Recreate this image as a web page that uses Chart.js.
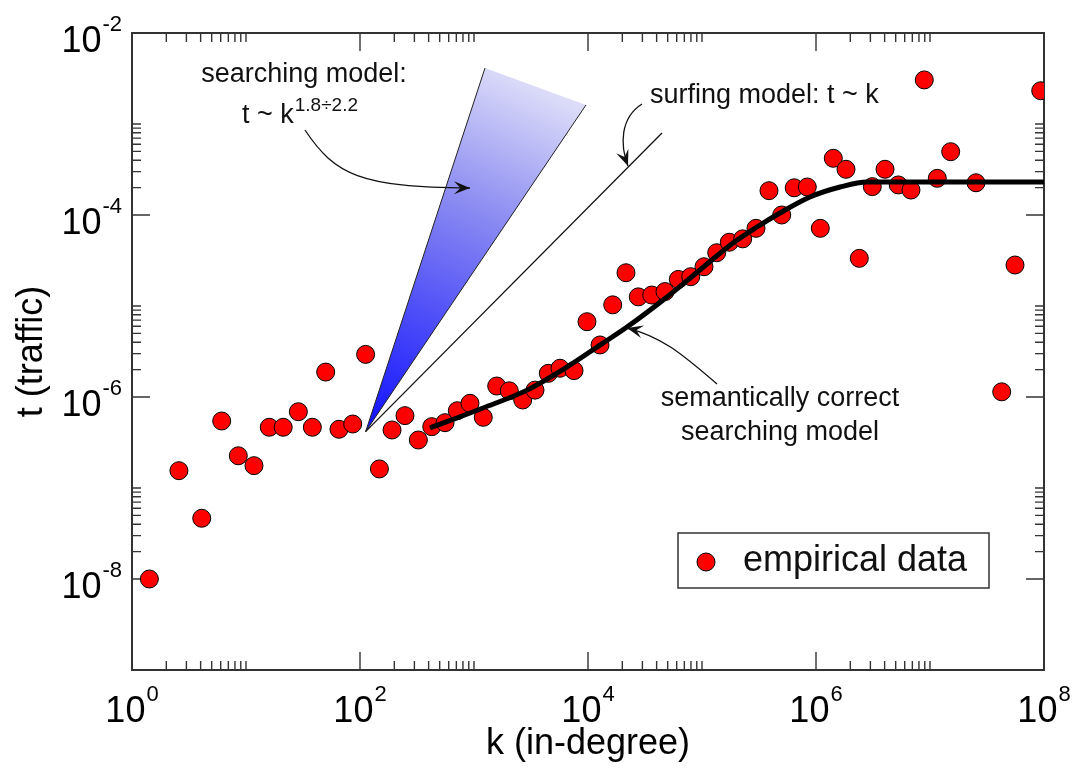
<!DOCTYPE html>
<html>
<head>
<meta charset="utf-8">
<script src="https://cdn.jsdelivr.net/npm/chart.js@4.4.0/dist/chart.umd.min.js"></script>
<style>
  html, body { margin: 0; padding: 0; background: #fff; }
  #wrap { width: 1075px; height: 768px; }
</style>
</head>
<body>
<div id="wrap"><canvas id="myChart" width="1075" height="768"></canvas></div>
<script>
const FONT = '"Liberation Sans", Arimo, Helvetica, Arial, sans-serif';

// empirical data: in-degree k and traffic t
const empiricalK = [1.42, 2.58, 4.09, 6.12, 8.56, 11.75, 16.0, 21.2, 28.8, 38.2, 50.0, 65.4, 86.3, 112, 148, 191, 248, 325, 426, 557,
  714, 922, 1206, 1582, 2040, 2675, 3429, 4485, 5680, 7540, 9800, 12750, 16470, 21540, 27620, 36220, 47370, 61960, 79600, 104100,
  134600, 173600, 227500, 297700, 387000, 500100, 644000, 838800, 1.091e6, 1.418e6, 1.833e6, 2.398e6, 3.118e6, 4.03e6, 5.27e6,
  6.81e6, 8.91e6, 1.159e7, 1.519e7, 2.533e7, 4.256e7, 5.568e7, 9.36e7];
const empiricalT = [1.0e-8, 1.55e-7, 4.65e-8, 5.45e-7, 2.26e-7, 1.76e-7, 4.65e-7, 4.65e-7, 6.89e-7, 4.65e-7, 1.88e-6, 4.42e-7, 5.05e-7, 2.94e-6, 1.62e-7, 4.34e-7, 6.24e-7, 3.37e-7, 4.72e-7, 5.22e-7,
  7.07e-7, 8.53e-7, 5.98e-7, 1.32e-6, 1.17e-6, 9.27e-7, 1.19e-6, 1.82e-6, 2.07e-6, 1.95e-6, 6.72e-6, 3.73e-6, 1.03e-5, 2.32e-5, 1.26e-5, 1.32e-5, 1.44e-5, 1.96e-5, 2.10e-5, 2.70e-5,
  3.85e-5, 5.02e-5, 5.47e-5, 7.14e-5, 1.85e-4, 1.0e-4, 1.99e-4, 2.03e-4, 7.14e-5, 4.20e-4, 3.18e-4, 3.34e-5, 2.05e-4, 3.18e-4, 2.14e-4,
  1.88e-4, 3.05e-3, 2.53e-4, 4.96e-4, 2.26e-4, 1.14e-6, 2.82e-5, 2.32e-3];

// semantically correct searching model
const modelK = [411, 1200, 2917, 6546, 12740, 21980, 49320, 95940, 187100, 303400, 483100, 885100, 1.626e6, 2.80e6, 5.46e6, 1e8];
const modelT = [4.56e-7, 7.57e-7, 1.19e-6, 2.14e-6, 3.72e-6, 5.87e-6, 1.256e-5, 2.49e-5, 4.92e-5, 7.38e-5, 1.052e-4, 1.578e-4, 2.03e-4, 2.31e-4, 2.31e-4, 2.31e-4];

// searching model wedge: left tip, apex, right tip
const wedgeK = [1249, 112, 9605];
const wedgeT = [4.12e-3, 4.16e-7, 1.62e-3];

// surfing model line t ~ k
const surfK = [112, 44570];
const surfT = [4.16e-7, 7.96e-4];

// axes
const xMajor = [1, 1e2, 1e4, 1e6, 1e8];
const xExp = ['0', '2', '4', '6', '8'];
const yMajor = [1e-8, 1e-6, 1e-4, 1e-2];
const yExp = ['-8', '-6', '-4', '-2'];
const minorSteps = [2, 3, 4, 5, 6, 7, 8, 9, 10];

// annotation anchors in data coordinates
const searchArrow = [[32.9, 8.59e-4], [60.4, 2.75e-4], [100, 2.03e-4], [922, 1.98e-4]];
const surfArrow = [[29760, 1.66e-3], [19090, 1.164e-3], [19090, 5.88e-4], [22430, 3.455e-4]];
const semArrow = [[135400, 1.39e-6], [64120, 3.12e-6], [42810, 4.68e-6], [21990, 5.73e-6]];

const pairs = (ks, ts) => ks.map((k, i) => ({ x: k, y: ts[i] }));

function wedgeGradient(chart) {
  const { ctx, chartArea, scales } = chart;
  if (!chartArea) return 'rgba(90,90,255,0.8)';
  const x0 = scales.x.getPixelForValue(wedgeK[1]);
  const y0 = scales.y.getPixelForValue(wedgeT[1]);
  const x1 = (scales.x.getPixelForValue(wedgeK[0]) + scales.x.getPixelForValue(wedgeK[2])) / 2;
  const y1 = (scales.y.getPixelForValue(wedgeT[0]) + scales.y.getPixelForValue(wedgeT[2])) / 2;
  const g = ctx.createLinearGradient(x0, y0, x1, y1);
  g.addColorStop(0, '#1010ff');
  g.addColorStop(0.35, '#5050f8');
  g.addColorStop(0.65, '#8c8cf2');
  g.addColorStop(1, '#dcdcf9');
  return g;
}

function powLabel(ctx, exp, left, base) {
  ctx.font = '36px ' + FONT;
  ctx.fillText('10', left, base);
  const w = ctx.measureText('10').width;
  ctx.font = '22px ' + FONT;
  ctx.fillText(exp, left + w + 1, base - 21);
}
function powWidth(ctx, exp) {
  ctx.font = '36px ' + FONT;
  const w = ctx.measureText('10').width;
  ctx.font = '22px ' + FONT;
  return w + 1 + ctx.measureText(exp).width;
}

function drawArrow(ctx, pts) {
  const [p0, p1, p2, p3] = pts;
  ctx.beginPath();
  ctx.moveTo(p0.x, p0.y);
  ctx.bezierCurveTo(p1.x, p1.y, p2.x, p2.y, p3.x, p3.y);
  ctx.stroke();
  const a = Math.atan2(p3.y - p2.y, p3.x - p2.x);
  const c = Math.cos(a), s = Math.sin(a);
  const L = 16, W = 6.5;
  ctx.beginPath();
  ctx.moveTo(p3.x, p3.y);
  ctx.lineTo(p3.x - L * c + W * s, p3.y - L * s - W * c);
  ctx.lineTo(p3.x - 0.6 * L * c, p3.y - 0.6 * L * s);
  ctx.lineTo(p3.x - L * c - W * s, p3.y - L * s + W * c);
  ctx.closePath();
  ctx.fill();
}

const frame = {
  id: 'frame',
  beforeDatasetsDraw(chart) {
    const { ctx, chartArea: a, scales: { x, y } } = chart;
    ctx.save();
    ctx.strokeStyle = '#333';
    ctx.lineWidth = 2;
    ctx.strokeRect(a.left, a.top, a.right - a.left, a.bottom - a.top);

    ctx.lineWidth = 1.4;
    ctx.beginPath();
    const tickX = (v, len) => {
      const p = x.getPixelForValue(v);
      ctx.moveTo(p, a.bottom); ctx.lineTo(p, a.bottom - len);
      ctx.moveTo(p, a.top); ctx.lineTo(p, a.top + len);
    };
    const tickY = (v, len) => {
      const p = y.getPixelForValue(v);
      ctx.moveTo(a.left, p); ctx.lineTo(a.left + len, p);
      ctx.moveTo(a.right, p); ctx.lineTo(a.right - len, p);
    };
    xMajor.forEach(v => {
      tickX(v, 18);
      minorSteps.forEach(m => { if (v * m <= x.max) tickX(v * m, 9); });
    });
    yMajor.forEach(v => {
      tickY(v, 18);
      minorSteps.forEach(m => { if (v * m <= y.max) tickY(v * m, 9); });
    });
    ctx.stroke();

    // tick labels
    ctx.fillStyle = '#000';
    ctx.textAlign = 'left';
    ctx.textBaseline = 'alphabetic';
    xMajor.forEach((v, i) => {
      const p = x.getPixelForValue(v);
      powLabel(ctx, xExp[i], p - powWidth(ctx, xExp[i]) / 2, a.bottom + 52);
    });
    yMajor.forEach((v, i) => {
      const p = y.getPixelForValue(v);
      powLabel(ctx, yExp[i], a.left - 10 - powWidth(ctx, yExp[i]), p + 19);
    });

    // axis titles
    ctx.font = '36px ' + FONT;
    ctx.textAlign = 'center';
    ctx.fillText('k (in-degree)', (a.left + a.right) / 2, 754);
    ctx.save();
    ctx.translate(42, (a.top + a.bottom) / 2);
    ctx.rotate(-Math.PI / 2);
    ctx.fillText('t (traffic)', 0, 0);
    ctx.restore();
    ctx.restore();
  },
  afterDatasetsDraw(chart) {
    const { ctx, chartArea: a, scales: { x, y } } = chart;
    const P = ([k, t]) => ({ x: x.getPixelForValue(k), y: y.getPixelForValue(t) });
    ctx.save();
    ctx.fillStyle = '#111';
    ctx.strokeStyle = '#111';
    ctx.lineWidth = 1.3;
    ctx.textBaseline = 'alphabetic';

    // searching model label
    ctx.font = '27px ' + FONT;
    ctx.textAlign = 'center';
    let p = P([32.3, 2.90e-3]);
    ctx.fillText('searching model:', p.x, p.y);
    ctx.textAlign = 'left';
    p = P([9.22, 1.02e-3]);
    ctx.fillText('t ~ k', p.x, p.y);
    const w = ctx.measureText('t ~ k').width;
    ctx.font = '19px ' + FONT;
    ctx.fillText('1.8÷2.2', p.x + w + 1, p.y - 12);
    drawArrow(ctx, searchArrow.map(P));

    // surfing model label
    ctx.font = '27px ' + FONT;
    p = P([34990, 1.70e-3]);
    ctx.fillText('surfing model: t ~ k', p.x, p.y);
    drawArrow(ctx, surfArrow.map(P));

    // semantically correct searching model label
    ctx.textAlign = 'center';
    p = P([483000, 7.96e-7]);
    ctx.fillText('semantically correct', p.x, p.y);
    p = P([483000, 3.37e-7]);
    ctx.fillText('searching model', p.x, p.y);
    drawArrow(ctx, semArrow.map(P));

    // legend box
    const lx = a.right - 366, ly = a.bottom - 137;
    ctx.strokeStyle = '#333';
    ctx.lineWidth = 1.5;
    ctx.strokeRect(lx, ly, 311, 55);
    ctx.beginPath();
    ctx.arc(lx + 28, ly + 29, 9, 0, Math.PI * 2);
    ctx.fillStyle = '#ff0000';
    ctx.fill();
    ctx.strokeStyle = '#000';
    ctx.lineWidth = 1;
    ctx.stroke();
    ctx.fillStyle = '#111';
    ctx.font = '36px ' + FONT;
    ctx.textAlign = 'left';
    ctx.fillText('empirical data', lx + 65, ly + 38);
    ctx.restore();
  }
};

const ctx = document.getElementById('myChart').getContext('2d');
const myChart = new Chart(ctx, {
  type: 'scatter',
  data: {
    datasets: [
      {
        label: 'semantically correct searching model',
        data: pairs(modelK, modelT),
        showLine: true,
        borderColor: '#000',
        borderWidth: 5,
        pointRadius: 0,
        cubicInterpolationMode: 'monotone',
        borderCapStyle: 'butt',
        order: 0,
      },
      {
        label: 'empirical data',
        data: pairs(empiricalK, empiricalT),
        backgroundColor: '#ff0000',
        borderColor: '#000',
        borderWidth: 1,
        pointRadius: 9,
        order: 1,
      },
      {
        label: 'surfing model',
        data: pairs(surfK, surfT),
        showLine: true,
        borderColor: '#111',
        borderWidth: 1.3,
        pointRadius: 0,
        order: 2,
      },
      {
        label: 'searching model',
        data: pairs(wedgeK, wedgeT),
        showLine: true,
        fill: 'shape',
        backgroundColor: (c) => wedgeGradient(c.chart),
        borderColor: '#222',
        borderWidth: 1,
        pointRadius: 0,
        tension: 0,
        order: 3,
      },
    ],
  },
  options: {
    responsive: false,
    animation: false,
    devicePixelRatio: 1,
    events: [],
    layout: { padding: { left: 132, top: 33, right: 31, bottom: 98 } },
    plugins: { legend: { display: false }, tooltip: { enabled: false } },
    scales: {
      x: { type: 'logarithmic', min: 1, max: 1e8, display: false },
      y: { type: 'logarithmic', min: 1e-9, max: 1e-2, display: false },
    },
  },
  plugins: [frame],
});
</script>
</body>
</html>
